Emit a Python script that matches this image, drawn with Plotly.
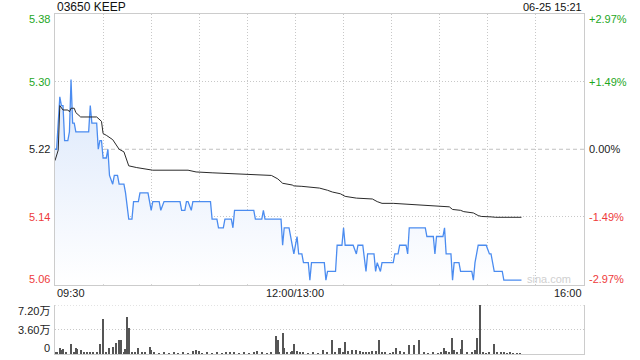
import plotly.graph_objects as go

# ---------------- data ----------------
title_text = "03650 KEEP"
stamp_text = "06-25 15:21"
prev_close = 5.22
y_min, y_max = 5.065, 5.375
price_ticks = [5.375, 5.2975, 5.22, 5.1425, 5.065]
price_labels = ["5.38", "5.30", "5.22", "5.14", "5.06"]
pct_labels = ["+2.97%", "+1.49%", "0.00%", "-1.49%", "-2.97%"]
x_ticks = [0, 150, 330]
x_labels = ["09:30", "12:00/13:00", "16:00"]
grid_t = [30, 60, 90, 120, 150, 180, 210, 240, 270, 300]
vol_ticks = [72000, 36000, 0]
vol_labels = ["7.20万", "3.60万", "0"]
vol_max = 72000

# minutes since 09:30 on the trading-time axis (lunch break removed)
price_t = [0, 1, 3, 4, 5, 6, 8, 9, 10, 11, 12, 13, 21, 22, 23, 26, 27, 28, 29, 30,
           32, 33, 34, 36, 37, 39, 40, 42, 43, 44, 46, 48, 49, 52, 53, 58, 60, 61, 65, 66,
           68, 78, 79, 81, 82, 83, 85, 86, 97, 98, 101, 102, 105, 106, 110, 111, 112, 124, 125, 129,
           130, 131, 141, 142, 143, 146, 149, 151, 152, 154, 155, 158, 159, 160, 168, 169, 170, 175, 176, 179,
           180, 181, 186, 188, 189, 192, 194, 195, 199, 200, 201, 203, 204, 211, 212, 214, 215, 219, 220, 221,
           231, 232, 236, 237, 238, 242, 243, 244, 247, 248, 249, 252, 253, 260, 261, 262, 264, 269, 271, 272,
           274, 279, 280, 291]
price_v = [5.22, 5.22, 5.28, 5.27, 5.27, 5.23, 5.23, 5.24, 5.30, 5.25, 5.25, 5.24, 5.24, 5.27, 5.25, 5.25, 5.22, 5.23, 5.23, 5.21,
           5.21, 5.22, 5.19, 5.18, 5.19, 5.19, 5.18, 5.18, 5.18, 5.17, 5.14, 5.14, 5.16, 5.16, 5.17, 5.17, 5.15, 5.16, 5.16, 5.15,
           5.16, 5.16, 5.15, 5.15, 5.16, 5.16, 5.15, 5.16, 5.16, 5.14, 5.14, 5.13, 5.13, 5.14, 5.14, 5.13, 5.15, 5.15, 5.14, 5.14,
           5.15, 5.14, 5.14, 5.11, 5.13, 5.13, 5.10, 5.12, 5.10, 5.10, 5.09, 5.09, 5.07, 5.09, 5.09, 5.07, 5.08, 5.08, 5.11, 5.11,
           5.13, 5.11, 5.11, 5.10, 5.11, 5.11, 5.08, 5.10, 5.10, 5.08, 5.09, 5.08, 5.09, 5.09, 5.10, 5.10, 5.11, 5.11, 5.10, 5.13,
           5.13, 5.12, 5.12, 5.10, 5.12, 5.12, 5.13, 5.10, 5.10, 5.07, 5.09, 5.09, 5.08, 5.08, 5.07, 5.09, 5.11, 5.11, 5.10, 5.10,
           5.08, 5.08, 5.07, 5.07]

avg_t = [0, 2, 3, 5, 8, 9, 10, 12, 13, 16, 26, 29, 30, 32, 36, 40, 43, 46, 51, 58,
         61, 83, 88, 98, 108, 123, 135, 139, 142, 148, 149, 154, 165, 170, 173, 178, 181, 188, 198, 201,
         204, 211, 226, 238, 246, 248, 253, 255, 261, 264, 266, 272, 275, 291]
avg_v = [5.207, 5.219, 5.270, 5.265, 5.265, 5.263, 5.267, 5.267, 5.262, 5.257, 5.257, 5.252, 5.238, 5.236, 5.231, 5.220, 5.217, 5.201, 5.199, 5.197,
         5.196, 5.196, 5.194, 5.193, 5.192, 5.191, 5.190, 5.186, 5.181, 5.179, 5.178, 5.1775, 5.1755, 5.173, 5.171, 5.169, 5.166, 5.164, 5.163, 5.160,
         5.158, 5.158, 5.156, 5.155, 5.154, 5.151, 5.150, 5.1485, 5.147, 5.144, 5.143, 5.1425, 5.142, 5.142]

vol_t = [0, 1, 3, 4, 5, 7, 10, 12, 13, 14, 16, 18, 20, 22, 24, 26, 28, 30, 32, 34,
         36, 38, 40, 41, 43, 44, 45, 46, 48, 50, 52, 54, 56, 59, 60, 62, 65, 68, 71, 74,
         77, 80, 83, 86, 88, 90, 92, 95, 98, 101, 104, 107, 109, 112, 115, 118, 121, 124, 126, 129,
         132, 135, 138, 139, 140, 142, 143, 145, 147, 148, 149, 151, 153, 155, 158, 161, 164, 167, 170, 173,
         175, 177, 178, 180, 181, 183, 185, 188, 190, 192, 194, 196, 198, 200, 202, 204, 206, 209, 211, 213,
         215, 218, 221, 224, 227, 230, 233, 236, 239, 241, 243, 244, 246, 248, 249, 251, 253, 254, 257, 260,
         262, 263, 265, 267, 269, 271, 274, 276, 278, 280, 282, 284, 286, 288, 290]
vol_v = [3000, 1500, 9000, 6000, 7500, 2000, 14000, 1500, 9000, 7500, 6500, 1500, 2500, 2000, 2500, 1500, 14000, 52000, 2500, 9000,
         10500, 15500, 21000, 20000, 1500, 7500, 55000, 38500, 1500, 2000, 9000, 1500, 1500, 10500, 6500, 1500, 1000, 1500, 1000, 1500,
         1000, 1500, 1000, 5000, 6500, 4000, 1000, 1500, 1000, 1500, 1000, 3500, 3500, 1500, 1000, 1500, 1000, 1500, 5000, 1500,
         1000, 1500, 26000, 20000, 2000, 31000, 9000, 1500, 1500, 4000, 14000, 4000, 2500, 1500, 1000, 1500, 1000, 5500, 1500, 21000,
         1500, 9000, 9000, 1500, 18000, 5000, 6500, 5500, 4000, 3000, 3000, 1500, 4000, 5000, 21000, 3000, 1500, 1000, 1500, 9000,
         4000, 1500, 12500, 12500, 21000, 1500, 1000, 1500, 1000, 1500, 9000, 4000, 1500, 23000, 6500, 1500, 7500, 20000, 2500, 1500,
         6500, 24000, 72000, 1500, 1000, 1500, 14000, 1500, 3000, 1500, 1000, 1500, 1000, 1000, 500]

# ---------------- styles ----------------
FONT = "Liberation Sans, Arial, Noto Sans CJK SC, sans-serif"
GREEN = "#1ea71e"
RED = "#ee3b3b"
BLACK = "#222222"
GRID = "#c8c8c8"
GRID_DASH = "1px,2px"
BORDER = "#cccccc"
MAIN_DOM = [0.2044, 1.0]
VOL_DOM = [0.0, 0.1441]

fig = go.Figure()

fig.add_trace(go.Scatter(x=[price_t[0], price_t[-1]], y=[y_min, y_min], mode="lines",
                         line=dict(width=0, color="rgba(0,0,0,0)"), hoverinfo="skip",
                         showlegend=False, xaxis="x", yaxis="y"))
fig.add_trace(go.Scatter(x=price_t, y=price_v, mode="lines",
                         line=dict(color="#4b8cf0", width=1.3),
                         fill="tonexty",
                         fillgradient=dict(type="vertical", start=y_min, stop=5.30,
                                           colorscale=[[0, "#ffffff"], [0.5, "#edf3fd"], [1, "#dbe8fb"]]),
                         showlegend=False, xaxis="x", yaxis="y"))
fig.add_trace(go.Scatter(x=avg_t, y=avg_v, mode="lines",
                         line=dict(color="#2a2a2a", width=1),
                         showlegend=False, xaxis="x", yaxis="y"))
fig.add_trace(go.Bar(x=vol_t, y=vol_v, width=0.7, marker=dict(color="#555555", line=dict(width=0)),
                     showlegend=False, xaxis="x2", yaxis="y2"))

ann = []
ann.append(dict(text=title_text, xref="paper", yref="paper", x=0, y=1, xanchor="left",
                yanchor="middle", yshift=7, showarrow=False, font=dict(size=12, color="#111", family=FONT)))
ann.append(dict(text=stamp_text, xref="paper", yref="paper", x=1, y=1, xanchor="right",
                yanchor="middle", yshift=7, showarrow=False, font=dict(size=11, color="#111", family=FONT)))

colors = [GREEN, GREEN, BLACK, RED, RED]
shifts = [-5, 0, 0, 0, 6]
for val, lab, pct, col, sh in zip(price_ticks, price_labels, pct_labels, colors, shifts):
    ann.append(dict(text=lab, xref="paper", yref="y", x=0, y=val, xanchor="right", yanchor="middle",
                    xshift=-3, yshift=sh, showarrow=False, font=dict(size=11, color=col, family=FONT)))
    ann.append(dict(text=pct, xref="paper", yref="y", x=1, y=val, xanchor="left", yanchor="middle",
                    xshift=3, yshift=sh, showarrow=False, font=dict(size=11, color=col, family=FONT)))

xanch = ["left", "center", "right"]
for t, lab, xa in zip(x_ticks, x_labels, xanch):
    ann.append(dict(text=lab, xref="x", yref="paper", x=t, y=MAIN_DOM[0], xanchor=xa, yanchor="middle",
                    yshift=-8, showarrow=False, font=dict(size=11, color=BLACK, family=FONT)))

vshifts = [-6, 0, 6]
for val, lab, sh in zip(vol_ticks, vol_labels, vshifts):
    ann.append(dict(text=lab, xref="paper", yref="y2", x=0, y=val, xanchor="right", yanchor="middle",
                    xshift=-3, yshift=sh, showarrow=False, font=dict(size=11, color=BLACK, family=FONT)))

ann.append(dict(text="sina.com", xref="paper", yref="paper", x=0.979, y=MAIN_DOM[0], xanchor="right",
                yanchor="middle", yshift=6, showarrow=False, font=dict(size=11, color="#d0d0d0", family=FONT)))

shapes = [
    dict(type="line", xref="paper", yref="y", x0=0, x1=1, y0=prev_close, y1=prev_close,
         line=dict(color="#c0c0c0", width=1, dash="4px,3px"), layer="below"),
    dict(type="line", xref="paper", yref="y2", x0=0, x1=1, y0=vol_max, y1=vol_max,
         line=dict(color=GRID, width=1, dash=GRID_DASH), layer="below"),
]

fig.update_layout(
    width=640, height=360,
    margin=dict(l=55, r=56, t=14, b=6),
    paper_bgcolor="white", plot_bgcolor="white",
    showlegend=False, bargap=0,
    annotations=ann, shapes=shapes,
    xaxis=dict(domain=[0, 1], range=[0, 330], anchor="y", tickvals=grid_t, showticklabels=False,
               ticks="", showgrid=True, gridcolor=GRID, griddash=GRID_DASH, gridwidth=1,
               showline=True, mirror=True, linecolor=BORDER, linewidth=1, zeroline=False, fixedrange=True),
    yaxis=dict(domain=MAIN_DOM, range=[y_min, y_max], anchor="x", tickvals=[price_ticks[1], price_ticks[3]],
               showticklabels=False, ticks="", showgrid=True, gridcolor=GRID, griddash=GRID_DASH, gridwidth=1,
               showline=True, mirror=True, linecolor=BORDER, linewidth=1, zeroline=False),
    xaxis2=dict(domain=[0, 1], range=[0, 330], anchor="y2", showticklabels=False, ticks="",
                showgrid=False, showline=True, mirror=False, linecolor=BORDER, linewidth=1, zeroline=False),
    yaxis2=dict(domain=VOL_DOM, range=[0, vol_max], anchor="x2", tickvals=[vol_ticks[1]],
                showticklabels=False, ticks="", showgrid=True, gridcolor=GRID, griddash=GRID_DASH, gridwidth=1,
                showline=True, mirror=True, linecolor=BORDER, linewidth=1, zeroline=False),
)

fig.write_html("out.html")
